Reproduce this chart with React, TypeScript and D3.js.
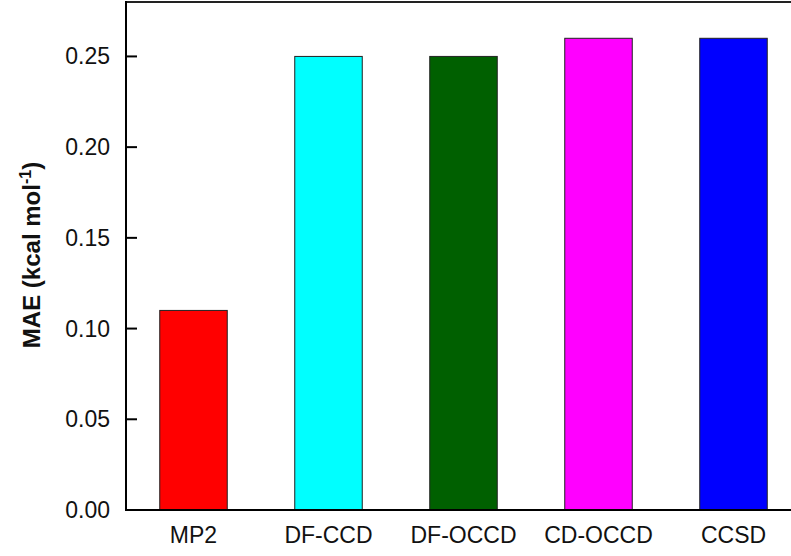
import React from "react";
import * as d3 from "d3";

const categories = ["MP2", "DF-CCD", "DF-OCCD", "CD-OCCD", "CCSD"];
const values = [0.11, 0.25, 0.25, 0.26, 0.26];
const colors = ["#ff0000", "#00ffff", "#006000", "#ff00ff", "#0000ff"];
const yTicks = [0, 0.05, 0.1, 0.15, 0.2, 0.25];

const W = 791;
const H = 556;
const left = 126;
const top = 2;
const bottom = 510;

export default function App() {
  const y = d3.scaleLinear().domain([0, 0.28]).range([bottom, top]);
  const x = d3
    .scaleBand<string>()
    .domain(categories)
    .range([left, left + 675])
    .paddingInner(0.5)
    .paddingOuter(0.25);
  const font = "Liberation Sans, Arial, Helvetica, sans-serif";
  return (
    <svg
      width={W}
      height={H}
      style={{ position: "absolute", left: 0, top: 0, background: "#fff" }}
      fontFamily={font}
    >
      {categories.map((c, i) => (
        <rect
          key={c}
          x={x(c)}
          y={y(values[i])}
          width={x.bandwidth()}
          height={y(0) - y(values[i])}
          fill={colors[i]}
          stroke="#222"
          strokeWidth={1}
        />
      ))}
      <line x1={left} x2={W} y1={top} y2={top} stroke="#222" strokeWidth={2} />
      <line x1={left} x2={W} y1={bottom} y2={bottom} stroke="#000" strokeWidth={2} />
      <line x1={left} x2={left} y1={top - 1} y2={bottom + 1} stroke="#000" strokeWidth={2} />
      {yTicks.map((t) => (
        <g key={t}>
          <line x1={left} x2={left + 11} y1={y(t)} y2={y(t)} stroke="#000" strokeWidth={2} />
          <text
            x={left - 16}
            y={y(t)}
            dy="0.35em"
            textAnchor="end"
            fontSize={23}
            fill="#111"
          >
            {d3.format(".2f")(t)}
          </text>
        </g>
      ))}
      {categories.map((c) => (
        <text
          key={c}
          x={(x(c) as number) + x.bandwidth() / 2}
          y={543}
          textAnchor="middle"
          fontSize={23}
          fill="#111"
        >
          {c}
        </text>
      ))}
      <text
        transform={`translate(40, 255) rotate(-90)`}
        textAnchor="middle"
        fontSize={24}
        fontWeight="bold"
        fill="#111"
      >
        MAE (kcal mol
        <tspan dy={-9} fontSize={16}>-1</tspan>
        <tspan dy={9}>)</tspan>
      </text>
    </svg>
  );
}
